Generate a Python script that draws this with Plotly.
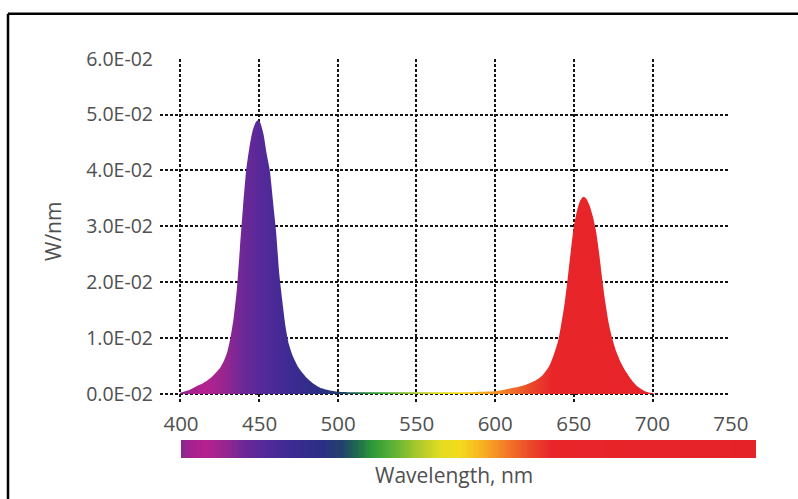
import numpy as np
import plotly.graph_objects as go

# ---- data ----
WAVELENGTH_NM = [400, 405, 410, 415, 420, 425, 428, 430, 432, 434, 436, 438, 440, 442, 444, 446, 448, 449.5,
                 451, 453, 455, 457, 459, 461, 463, 465, 467, 469, 472, 475, 480, 485, 490, 495, 500,
                 510, 520, 530, 540, 550, 560, 570, 580, 590, 600,
                 605, 610, 615, 620, 625, 630, 634, 637, 640, 642, 644, 646, 648, 650, 652, 654, 656,
                 658, 660, 662, 664, 666, 668, 670, 672, 674, 677, 680, 683, 686, 690, 695, 700, 710, 730, 748]
POWER_W_NM = [0.0002, 0.0006, 0.0013, 0.0020, 0.0030, 0.0045, 0.0060, 0.0075, 0.0100, 0.0135, 0.0185, 0.0260,
              0.0335, 0.0400, 0.0440, 0.0470, 0.0486, 0.0490,
              0.0485, 0.0465, 0.0430, 0.0400, 0.0345, 0.0290, 0.0215, 0.0165, 0.0120, 0.0090, 0.0065, 0.0048,
              0.0030, 0.0018, 0.0010, 0.0006, 0.0004,
              0.0003, 0.0003, 0.0003, 0.0003, 0.0003, 0.0003, 0.0003, 0.0003, 0.0004, 0.0005,
              0.0007, 0.0010, 0.0013, 0.0017, 0.0023, 0.0033, 0.0048, 0.0068, 0.0095, 0.0125, 0.0160, 0.0205,
              0.0255, 0.0300, 0.0328, 0.0346, 0.0353,
              0.0349, 0.0337, 0.0318, 0.0292, 0.0252, 0.0205, 0.0163, 0.0128, 0.0103, 0.0075, 0.0055, 0.0040,
              0.0027, 0.0014, 0.0005, 0.0001, 0.0, 0.0, 0.0]

X_GRID = [400, 450, 500, 550, 600, 650, 700]
X_TICK_LABELS = [400, 450, 500, 550, 600, 650, 700, 750]
Y_TICKS = [0.0, 0.01, 0.02, 0.03, 0.04, 0.05, 0.06]
Y_TICK_TEXT = ["0.0E-02", "1.0E-02", "2.0E-02", "3.0E-02", "4.0E-02", "5.0E-02", "6.0E-02"]

# spectrum colour stops (wavelength nm, colour)
SPECTRUM_NM = [400, 408, 416, 428, 440, 452, 470, 490, 502, 512, 522, 535, 550, 565, 577, 592, 607, 622, 636, 766]
SPECTRUM_COLORS = ["#85298b", "#a9208e", "#b4228f", "#99258f", "#6c2896", "#55299a", "#3c2b92", "#2b2f84",
                   "#22406e", "#1f6a4e", "#2e9a38", "#5cb236", "#a8c82c", "#e2dc22", "#f3dc1e", "#f7b021",
                   "#f27a27", "#ea4a2a", "#e8262a", "#e42228"]

NM_MIN, NM_MAX = SPECTRUM_NM[0], SPECTRUM_NM[-1]
COLORSCALE = [[(nm - NM_MIN) / (NM_MAX - NM_MIN), c] for nm, c in zip(SPECTRUM_NM, SPECTRUM_COLORS)]

W, H = 798, 499
FONT = "Open Sans"
TXT = "#505050"

fig = go.Figure()

fig.add_trace(go.Scatter(
    x=WAVELENGTH_NM, y=POWER_W_NM, mode="lines", line=dict(width=0, shape="spline", smoothing=0.6),
    fill="tozeroy",
    fillgradient=dict(type="horizontal", colorscale=COLORSCALE, start=NM_MIN, stop=NM_MAX),
    hoverinfo="skip", showlegend=False, xaxis="x", yaxis="y",
))

bar_nm = np.arange(NM_MIN, NM_MAX + 1, 1)
fig.add_trace(go.Heatmap(
    x=bar_nm, y=[0, 1], z=[bar_nm, bar_nm], colorscale=COLORSCALE, zmin=NM_MIN, zmax=NM_MAX,
    showscale=False, hoverinfo="skip", xaxis="x2", yaxis="y2",
))

grid = dict(showgrid=True, gridcolor="#151515", gridwidth=1.8, griddash="3px,2px",
            zeroline=False, showline=False, ticks="", automargin=False)

fig.update_layout(
    width=W, height=H, autosize=False,
    margin=dict(l=0, r=0, t=0, b=0, pad=0),
    paper_bgcolor="white", plot_bgcolor="white",
    font=dict(family=FONT, size=19, color=TXT),
    xaxis=dict(domain=[160 / W, 728.3 / W], range=[387.3, 748], tickvals=X_GRID,
               showticklabels=False, anchor="y", **grid),
    yaxis=dict(domain=[(H - 404) / H, (H - 58.7) / H], range=[-0.0018, 0.06], tickvals=Y_TICKS,
               ticktext=Y_TICK_TEXT, tickfont=dict(family=FONT, size=19.5, color=TXT), ticklabelstandoff=6,
               anchor="x", **grid),
    # colour strip axis; it also carries the wavelength labels above the strip
    xaxis2=dict(domain=[181 / W, 756 / W], range=[NM_MIN, NM_MAX], anchor="y2", side="top",
                tickvals=X_TICK_LABELS, ticktext=[str(v) for v in X_TICK_LABELS],
                tickfont=dict(family=FONT, size=20.5, color=TXT),
                ticklabelstandoff=4, showgrid=False, zeroline=False, showline=False, ticks="",
                automargin=False),
    yaxis2=dict(domain=[(H - 458) / H, (H - 440) / H], range=[-0.5, 1.5], visible=False, anchor="x2",
                automargin=False),
    shapes=[
        dict(type="line", xref="paper", yref="paper", x0=8 / W, x1=1.01, y0=(H - 13.8) / H, y1=(H - 13.8) / H,
             line=dict(color="black", width=2.5)),
        dict(type="line", xref="paper", yref="paper", x0=8 / W, x1=8 / W, y0=-0.01, y1=(H - 13.8) / H,
             line=dict(color="black", width=2.5)),
    ],
    annotations=[
        dict(text="Wavelength, nm", x=454 / W, xref="paper", y=(H - 475) / H, yref="paper",
             showarrow=False, font=dict(size=21, color=TXT), xanchor="center", yanchor="middle"),
        dict(text="W/nm", x=53 / W, xref="paper", y=(H - 232) / H, yref="paper", textangle=-90,
             showarrow=False, font=dict(size=21, color=TXT), xanchor="center", yanchor="middle"),
    ],
)

fig.write_html("out.html", config={"displayModeBar": False},
               post_script="document.body.style.margin='0';document.body.style.overflow='hidden';")
